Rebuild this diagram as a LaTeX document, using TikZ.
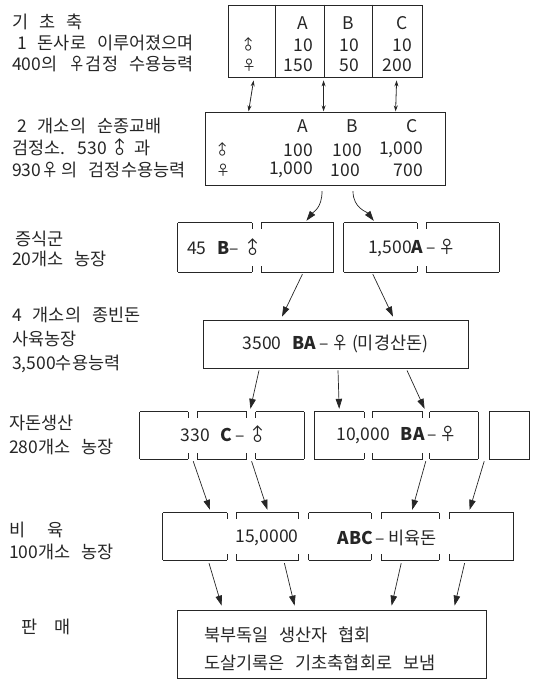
\documentclass[tikz,border=0pt]{standalone}
\usepackage{fontspec}
\usepackage{graphicx}
\setmainfont{Noto Sans CJK KR}[WordSpace=2.8]
\usetikzlibrary{positioning, arrows.meta, calc}
\definecolor{InkA}{HTML}{262626}
\tikzset{
  txt/.style={inner sep=0pt, text=InkA},
  sym/.style={txt, font=\fontsize{14}{14}\selectfont},
  lbl/.style={txt, anchor=west, align=left},
  box/.style={draw=InkA, line width=0.8pt, inner sep=0pt, text=InkA},
  frm/.style={draw=InkA, line width=0.8pt},
  cell/.style={inner sep=0pt, minimum height=47pt,
    append after command={
      (\tikzlastnode.north west) edge[frm] (\tikzlastnode.north east)
      (\tikzlastnode.south west) edge[frm] (\tikzlastnode.south east)}},
  sideL/.style={append after command={
      (\tikzlastnode.north west) edge[frm] (\tikzlastnode.south west)}},
  sideR/.style={append after command={
      (\tikzlastnode.north east) edge[frm] (\tikzlastnode.south east)}},
  tickL/.style={append after command={
      (\tikzlastnode.north west) edge[frm] ([yshift=-6pt]\tikzlastnode.north west)
      (\tikzlastnode.south west) edge[frm] ([yshift=6pt]\tikzlastnode.south west)}},
  tickR/.style={append after command={
      (\tikzlastnode.north east) edge[frm] ([yshift=-6pt]\tikzlastnode.north east)
      (\tikzlastnode.south east) edge[frm] ([yshift=6pt]\tikzlastnode.south east)}},
  arr/.style={-{Triangle[length=10pt,width=6.5pt]}, draw=InkA, line width=0.7pt},
  darr/.style={{Stealth[length=6pt,width=4pt]}-{Stealth[length=6pt,width=4pt]},
               draw=InkA, line width=0.8pt}
}
\newcommand{\malesym}{\rotatebox[origin=c]{45}{♂}}

\begin{document}
\begin{tikzpicture}[x=1pt, y=-1pt, font=\fontsize{17.5}{21}\selectfont]
  \useasboundingbox (0,0) rectangle (542,680);

  % ----- Left column: stage labels -----
  \node[lbl] (lab-base) at (12,43)
    {기 초 축\\\hspace*{5pt}1 돈사로 이루어졌으며\\400의 ♀검정 수용능력};
  \node[lbl] (lab-pure) at (12,148)
    {\hspace*{5pt}2 개소의 순종교배\\[1pt]검정소. 530\,\malesym\,과\\[1pt]930♀\,의 검정수용능력};
  \node[lbl] (lab-mult) at (12,249) {\hspace*{3pt}증식군\\[-1pt]20개소 농장};
  \node[lbl] (lab-sow) at (12,340) {4 개소의 종빈돈\\[3pt]사육농장\\[3pt]3,500수용능력};
  \node[lbl] (lab-pig) at (9,435) {자돈생산\\[3pt]280개소 농장};
  \node[lbl] (lab-fat) at (9,541) {비\hspace{22pt}육\\[1pt]100개소 농장};
  \node[lbl] (lab-sale) at (21,627) {판\hspace{17pt}매};

  % ----- Base herd: 3 column table -----
  \node[box, minimum width=194pt, minimum height=72pt] (base) at (325,41) {};
  \foreach \dx in {48,97,145}
    \draw[frm] ([xshift=\dx pt]base.north west) -- ([xshift=\dx pt]base.south west);
  \node[txt] (base-A) at (303,23) {A};
  \node[txt] (base-B) at (348,23) {B};
  \node[txt] (base-C) at (402,23) {C};
  \node[sym] (base-m) at (249,45) {\malesym};
  \node[sym] (base-f) at (249,65) {♀};
  \node[txt, anchor=east] (base-mA) at (313,45) {10};
  \node[txt, anchor=east] (base-mB) at (359,45) {10};
  \node[txt, anchor=east] (base-mC) at (412,45) {10};
  \node[txt, anchor=east] (base-fA) at (313,65) {150};
  \node[txt, anchor=east] (base-fB) at (359,65) {50};
  \node[txt, anchor=east] (base-fC) at (412,65) {200};

  % ----- Pure breeding: table without rules -----
  \node[box, minimum width=240pt, minimum height=73pt, below=35pt of base] (pure) {};
  \node[txt] (pure-A) at (303,126) {A};
  \node[txt] (pure-B) at (352,126) {B};
  \node[txt] (pure-C) at (412,126) {C};
  \node[sym] (pure-m) at (223,150) {\malesym};
  \node[sym] (pure-f) at (223,170) {♀};
  \node[txt, anchor=east] (pure-mA) at (313,150) {100};
  \node[txt, anchor=east] (pure-mB) at (362,150) {100};
  \node[txt, anchor=east] (pure-mC) at (423,150) {1,000};
  \node[txt, anchor=east] (pure-fA) at (313,170) {1,000};
  \node[txt, anchor=east] (pure-fB) at (360,170) {100};
  \node[txt, anchor=east] (pure-fC) at (423,170) {700};

  % ----- Multiplier row: 2 + 2 cells -----
  \node[cell, sideL, tickR, minimum width=74pt, minimum height=49pt] (mult-1) at (215,247.5) {};
  \node[cell, tickL, sideR, minimum width=72pt, minimum height=49pt, right=9pt of mult-1] (mult-2) {};
  \node[cell, sideL, tickR, minimum width=73pt, minimum height=49pt, right=10pt of mult-2] (mult-3) {};
  \node[cell, tickL, sideR, minimum width=73pt, minimum height=49pt, right=9pt of mult-3] (mult-4) {};
  \node[txt, anchor=west] (mult-m) at (187,248) {45 \textbf{B}–\,\malesym};
  \node[txt, anchor=west] (mult-f) at (368,248) {1,500\textbf{A}\,–\,♀};

  % ----- Sow farms -----
  \node[box, minimum width=265pt, minimum height=48pt] (sow) at (335.5,344)
    {3500 \textbf{BA}\,–\,♀\,(미경산돈)};

  % ----- Piglet row: 3 + 3 + 1 cells -----
  \node[cell, sideL, tickR, minimum width=48pt] (pig-1) at (164,435.5) {};
  \node[cell, tickL, tickR, minimum width=49pt, right=9pt of pig-1] (pig-2) {};
  \node[cell, tickL, sideR, minimum width=48pt, right=9pt of pig-2] (pig-3) {};
  \node[cell, sideL, tickR, minimum width=50pt, right=10pt of pig-3] (pig-4) {};
  \node[cell, tickL, tickR, minimum width=50pt, right=8pt of pig-4] (pig-5) {};
  \node[cell, tickL, sideR, minimum width=48pt, right=7pt of pig-5] (pig-6) {};
  \node[cell, sideL, sideR, minimum width=40pt, right=11pt of pig-6] (pig-7) {};
  \node[txt] (pig-m) at (225,435) {330 \textbf{C}\,–\,\malesym};
  \node[txt] (pig-f) at (397,435) {10,000 \textbf{BA}\,–\,♀};

  % ----- Fattening row: 5 cells -----
  \node[cell, sideL, tickR, minimum width=64pt] (fat-1) at (195,536.5) {};
  \node[cell, tickL, tickR, minimum width=62pt, right=9pt of fat-1] (fat-2) {};
  \node[cell, tickL, tickR, minimum width=62pt, right=10pt of fat-2] (fat-3) {};
  \node[cell, tickL, tickR, minimum width=58pt, right=10pt of fat-3] (fat-4) {};
  \node[cell, tickL, sideR, minimum width=64pt, right=10pt of fat-4] (fat-5) {};
  \node[txt] (fat-n) at (267,538) {15,0000};
  \node[txt] (fat-t) at (387,538) {\textbf{ABC}\,–\,비육돈};

  % ----- Sale -----
  \node[box, minimum width=309pt, minimum height=68pt] (sale) at (331.5,644) {};
  \node[lbl, font=\fontsize{17.5}{28}\selectfont] (sale-t) at (204,649)
    {북부독일 생산자 협회\\도살기록은 기초축협회로 보냄};

  % ----- Base <-> pure breeding -----
  \draw[darr] ([xshift=26pt,yshift=-3pt]base.south west) -- ([xshift=44pt,yshift=1pt]pure.north west);
  \draw[darr] ([xshift=96pt,yshift=-3pt]base.south west) -- ([xshift=119pt,yshift=1pt]pure.north west);
  \draw[darr] ([xshift=169pt,yshift=-3pt]base.south west) -- ([xshift=191pt,yshift=1pt]pure.north west);

  % ----- Pure breeding -> multiplier (curved) -----
  \draw[arr] ([xshift=-3pt,yshift=-5pt]pure.south) .. controls +(0,17) and +(7,-9)
    .. ([xshift=9pt,yshift=2pt]mult-2.north);
  \draw[arr] ([xshift=28pt,yshift=-5pt]pure.south) .. controls +(0,17) and +(-7,-9)
    .. ([xshift=-6.5pt,yshift=2pt]mult-3.north);

  % ----- Multiplier -> sow farms -----
  \draw[arr] ([xshift=5pt,yshift=-2pt]mult-2.south) -- ([xshift=-53.5pt,yshift=3pt]sow.north);
  \draw[arr] ([xshift=-7.5pt,yshift=-2pt]mult-3.south) -- ([xshift=57.5pt,yshift=3pt]sow.north);

  % ----- Sow farms -> piglet production -----
  \draw[arr] ([xshift=-76.5pt,yshift=-2pt]sow.south) -- ([xshift=28.5pt,yshift=3pt]pig-2.north);
  \draw[arr] ([xshift=2.5pt,yshift=-2pt]sow.south) -- ([yshift=3pt]pig-4.north);
  \draw[arr] ([xshift=71.5pt,yshift=-2pt]sow.south) -- ([xshift=27pt,yshift=3pt]pig-5.north);

  % ----- Piglet production -> fattening -----
  \draw[arr] ([xshift=5pt,yshift=-2pt]pig-1.south east) -- ([xshift=15pt,yshift=3pt]fat-1.north);
  \draw[arr] ([xshift=5pt,yshift=-2pt]pig-2.south east) -- ([yshift=3pt]fat-2.north);
  \draw[arr] ([xshift=3pt,yshift=-2pt]pig-5.south east) -- ([xshift=2pt,yshift=3pt]fat-4.north);
  \draw[arr] ([xshift=6pt,yshift=-2pt]pig-6.south east) -- ([xshift=-12pt,yshift=3pt]fat-5.north);

  % ----- Fattening -> sale -----
  \draw[arr] ([xshift=14pt,yshift=-3pt]fat-1.south) -- ([xshift=45pt,yshift=4pt]sale.north west);
  \draw[arr] ([xshift=17pt,yshift=-3pt]fat-2.south) -- ([xshift=118pt,yshift=4pt]sale.north west);
  \draw[arr] ([xshift=-9pt,yshift=-3pt]fat-4.south) -- ([xshift=215pt,yshift=4pt]sale.north west);
  \draw[arr] ([xshift=-17pt,yshift=-3pt]fat-5.south) -- ([xshift=278pt,yshift=4pt]sale.north west);

\end{tikzpicture}
\end{document}
